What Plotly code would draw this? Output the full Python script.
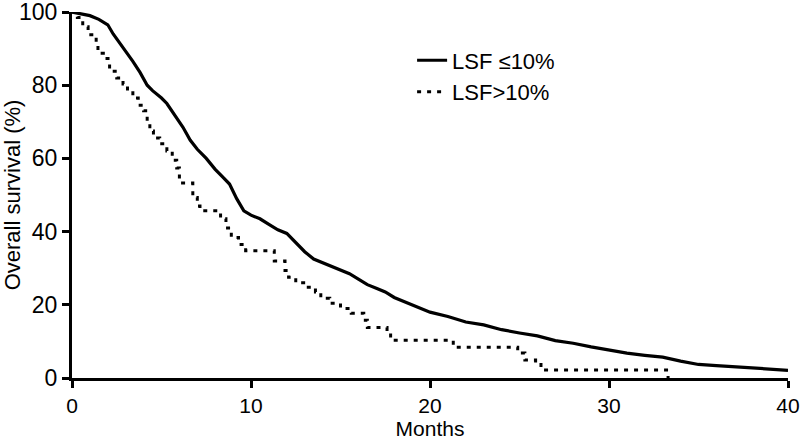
import plotly.graph_objects as go

# LSF <= 10% (solid)
t_low = [0, 0.5, 1, 1.5, 2, 2.3, 2.6, 3, 3.4, 3.8, 4.2, 4.5, 5, 5.3, 5.7, 6.2, 6.6, 7, 7.5, 8,
         8.4, 8.8, 9.2, 9.6, 10, 10.5, 11, 11.5, 12, 12.5, 13, 13.5, 14, 14.5, 15, 15.5, 16, 16.5,
         17, 17.5, 18, 18.5, 19, 19.5, 20, 21, 22, 23, 24, 25, 26, 27, 28, 29, 30, 31, 32, 33,
         34, 35, 36, 37, 38, 39, 40]
s_low = [100, 99.5, 99, 98, 96.5, 94, 92, 89.5, 86.5, 83.5, 80, 78.5, 76.5, 75, 72, 68.5, 65, 62.5, 60, 57,
         55, 53, 49, 45.7, 44.5, 43.5, 42, 40.5, 39.5, 37, 34.5, 32.5, 31.5, 30.5, 29.5, 28.5, 27, 25.5,
         24.5, 23.5, 22, 21, 20, 19, 18, 16.8, 15.3, 14.5, 13.2, 12.3, 11.5, 10.2, 9.5, 8.5, 7.6, 6.8, 6.2, 5.7,
         4.6, 3.7, 3.4, 3.1, 2.8, 2.5, 2.1]

# LSF > 10% (dotted)
t_high = [0, 0.3, 0.6, 0.9, 1.35, 1.45, 1.75, 2.1, 2.5, 2.85, 3.1, 3.4, 3.7, 4.0, 4.2, 4.35, 4.55, 4.9,
          5.3, 5.6, 5.85, 6.0, 6.75, 7.0, 7.15, 8.3, 8.6, 8.9, 9.3, 9.7, 11.3, 11.9, 12.1, 12.5, 13.1,
          13.6, 13.9, 14.4, 15.0, 15.6, 16.3, 16.5, 17.6, 17.8, 21.3, 24.9, 25.3, 25.9, 26.2, 33.3]
s_high = [100, 98.5, 96, 93.8, 91, 88.7, 87.3, 83.8, 82, 80.3, 78.5, 76.5, 74.5, 73, 70.2, 67.5, 65.6, 64,
          62, 59.5, 57.4, 53.3, 49.3, 47, 45.7, 43.5, 41, 38.4, 36.5, 34.8, 32, 29.4, 27.5, 26, 24.8,
          23.5, 21.8, 20.4, 19, 17.7, 15.8, 13.8, 12.5, 10.3, 8.4, 6.8, 4.9, 4.1, 2.2, 0]

x_ticks = [0, 10, 20, 30, 40]
y_ticks = [0, 20, 40, 60, 80, 100]

FONT = "Liberation Sans, Arial, sans-serif"

fig = go.Figure()
fig.add_trace(go.Scatter(x=t_low, y=s_low, mode="lines", line_shape="linear",
                         line=dict(color="black", width=3.2), name="LSF ≤10%"))
fig.add_trace(go.Scatter(x=t_high, y=s_high, mode="lines", line_shape="hv",
                         line=dict(color="black", width=3, dash="4px,6px"), name="LSF>10%"))

fig.update_layout(
    template="none",
    width=800, height=440,
    margin=dict(l=72, r=12, t=12, b=62, autoexpand=False),
    paper_bgcolor="white", plot_bgcolor="white",
    font=dict(family=FONT, size=21, color="black"),
    showlegend=True,
    hovermode=False,
    legend=dict(x=0.475, y=0.925, xanchor="left", yanchor="top",
                bgcolor="rgba(0,0,0,0)", font=dict(size=22)),
    xaxis=dict(range=[0, 40], tickvals=x_ticks, showgrid=False, zeroline=False,
               automargin=False,
               showline=True, linecolor="black", linewidth=3,
               ticks="outside", ticklen=7, tickwidth=3, tickcolor="black",
               tickfont=dict(size=21), ticklabeloverflow="allow",
               title=dict(text="Months", font=dict(size=21))),
    yaxis=dict(range=[0, 100], tickvals=y_ticks, showgrid=False, zeroline=False,
               automargin=False,
               showline=True, linecolor="black", linewidth=3,
               ticks="outside", ticklen=7, tickwidth=3, tickcolor="black",
               tickfont=dict(size=23), ticklabeloverflow="allow",
               title=dict(text="Overall survival (%)", font=dict(size=22))),
)

fig.write_html("out.html", config={"displayModeBar": False, "staticPlot": True},
               post_script="document.body.style.margin='0';")
